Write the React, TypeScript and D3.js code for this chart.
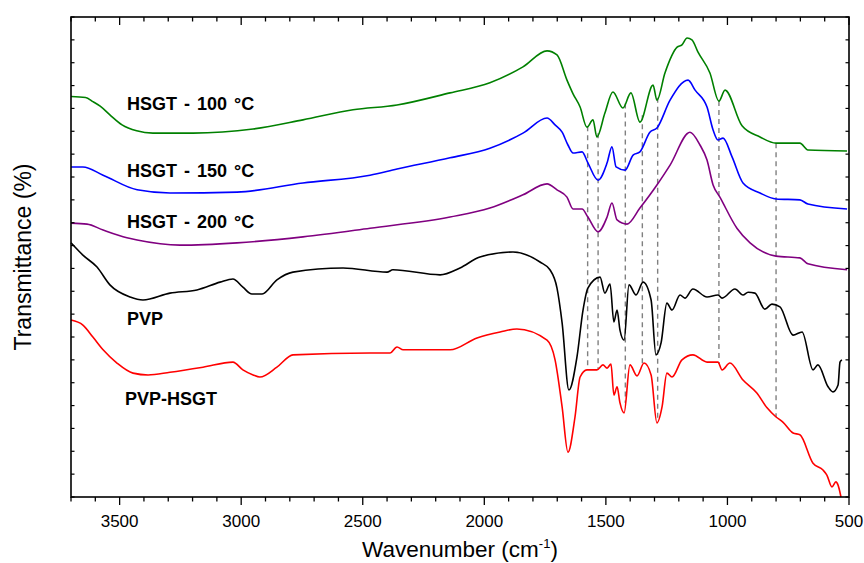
import { useEffect } from "react";
import * as d3 from "d3";

type Pt = [number, number];

// [wavenumber, transmittance] (arbitrary offset units)
const hsgt100: Pt[] = [
  [3700, 87.6], [3640, 87.4], [3610, 86.5], [3580, 85.5], [3540, 83.6], [3490, 81.4],
  [3430, 80.1], [3363, 79.6],
  [3198, 79.6], [2951, 80.5], [2746, 82.5], [2540, 84.7], [2359, 85.75], [2141, 88.4],
  [1977, 90.6], [1841, 94.1], [1742, 97.6], [1701, 96.7], [1660, 91.2], [1635, 88.2],
  [1606, 85.3], [1578, 80.9], [1553, 82.5], [1537, 78.75], [1504, 84], [1471, 88.6],
  [1430, 85.1], [1397, 88.4], [1360, 82], [1306, 90.1], [1290, 86.8], [1257, 92.75],
  [1207, 98.4], [1187, 98.9], [1166, 100.4], [1146, 100], [1121, 97.3], [1072, 92.75],
  [1035, 86.6], [1010, 89], [940, 81.2], [866, 78.75], [800, 77.4], [702, 77.4],
  [669, 75.9], [508, 75.7],
];

const hsgt150: Pt[] = [
  [3700, 72.2], [3651, 72.2], [3568, 70.4], [3428, 67.2], [3293, 66.5], [3017, 66.7],
  [2746, 68.7], [2470, 70.4], [2359, 71.75], [2141, 74.2], [1977, 76.3], [1841, 79.6],
  [1742, 82.9], [1709, 81.4], [1680, 79.8], [1656, 77], [1635, 75.25], [1598, 75.5],
  [1574, 73.1], [1532, 69.3], [1495, 73.1], [1475, 76.6], [1458, 72.2], [1421, 71.5],
  [1388, 74.8], [1360, 75.5], [1319, 79.8], [1290, 80.7], [1236, 86.8], [1162, 91.2],
  [1133, 89], [1084, 85.3], [1059, 80.3], [1039, 78.1], [1018, 78.5], [981, 74.4],
  [936, 68.7], [866, 66.5], [800, 65.2], [702, 65], [669, 64.1], [508, 63],
];

const hsgt200: Pt[] = [
  [3700, 59.9], [3634, 59.7], [3568, 58.4], [3470, 56.7], [3428, 56.2], [3252, 55.1],
  [3017, 55.6], [2746, 56.9], [2470, 58.8], [2141, 61.25], [1977, 63.2], [1841, 66.1],
  [1742, 68.5], [1701, 67.2], [1660, 65.6], [1635, 63], [1598, 63], [1574, 61.25],
  [1532, 58], [1495, 61.25], [1475, 64.3], [1454, 60.6], [1413, 59.7], [1360, 63.2],
  [1290, 68.25], [1236, 72.6], [1154, 79.8], [1113, 77], [1084, 73.7], [1059, 68.25],
  [1031, 65.6], [961, 58.8], [907, 55.6], [800, 52.7], [702, 52.3], [669, 51], [508, 49.7],
];

const pvp: Pt[] = [
  [3700, 55.6], [3651, 52.9], [3593, 50.3], [3540, 46.4], [3457, 43.75], [3404, 43.1],
  [3293, 44.6], [3182, 45.3], [3087, 47], [3034, 47.7], [2993, 45.9], [2956, 44.4],
  [2914, 44.4], [2853, 47.5], [2787, 49.2], [2581, 50.1], [2400, 49.2], [2376, 49.7],
  [2182, 48.6], [2100, 50.1], [2018, 52.5], [1882, 53.6], [1771, 51.4], [1730, 49.7],
  [1701, 45.7], [1680, 38.1], [1652, 23.4], [1619, 30.6], [1594, 40.9], [1574, 45.7],
  [1524, 48.1], [1504, 44.6], [1483, 46.6], [1467, 38.3], [1454, 40.9], [1442, 36.5],
  [1425, 34.3], [1405, 46.4], [1376, 44.2], [1347, 47], [1314, 43.1], [1294, 31.1],
  [1273, 33.7], [1249, 42.4], [1228, 40.9], [1195, 44.2], [1175, 43.5], [1142, 45.5],
  [1084, 43.75], [1039, 44.2], [1022, 43.5], [969, 45.5], [936, 44.2], [915, 44.8],
  [887, 44.6], [846, 41.1], [817, 42.2], [784, 41.6], [730, 35.4], [693, 36.1],
  [648, 27.8], [628, 28.9], [586, 24.1], [566, 23], [545, 24.5], [537, 29.5], [529, 30],
];

const pvpHsgt: Pt[] = [
  [3700, 38.7], [3651, 37.6], [3610, 35], [3568, 32.2], [3511, 29.3], [3445, 27.1],
  [3383, 26.7], [3293, 27.3], [3157, 28.4], [3034, 29.5], [2993, 27.8], [2951, 26.7],
  [2923, 26.25], [2853, 28.4], [2787, 31.1], [2470, 31.5], [2388, 31.5], [2359, 32.8],
  [2334, 32.2], [2141, 32.2], [2030, 34.8], [1935, 36.1], [1866, 36.75], [1742, 34.3],
  [1709, 30], [1680, 19.7], [1656, 9.8], [1627, 17.5], [1606, 26.25], [1578, 27.8],
  [1537, 27.8], [1512, 28.9], [1495, 28.2], [1479, 29.1], [1467, 22.3], [1454, 24.1],
  [1442, 20.6], [1425, 18.4], [1401, 28.9], [1372, 26.5], [1343, 29.3], [1314, 26.7],
  [1290, 16.2], [1269, 19.7], [1249, 27.1], [1228, 26.25], [1187, 30], [1142, 31.1],
  [1084, 29.5], [1039, 29.5], [1022, 27.8], [990, 29.3], [936, 25.6], [879, 22.75],
  [837, 19.5], [800, 17.5], [772, 16.4], [730, 14], [702, 13.6], [648, 7.4],
  [607, 5.9], [591, 4.8], [570, 2.2], [554, 3.3], [545, 2.6], [533, 0],
];

const seriesNames = ["HSGT - 100 °C", "HSGT - 150 °C", "HSGT - 200 °C", "PVP", "PVP-HSGT"];
const seriesData = [hsgt100, hsgt150, hsgt200, pvp, pvpHsgt];
const seriesColors = ["#008000", "#0000ff", "#800080", "#000000", "#ff0000"];
// label anchors in data units (wavenumber, baseline value)
const labelWn = [3470, 3470, 3470, 3470, 3478];
const labelVal = [84.7, 70.0, 58.8, 37.6, 20.1];

// band positions marked with grey dashed lines
const bandLines = [1575, 1532, 1420, 1350, 1287, 1035, 800];

const xMajorTicks = [3500, 3000, 2500, 2000, 1500, 1000, 500];
const xMinorTicks = d3.range(3700, 499, -100);
const yTicks = d3.range(0, 105.01, 5);

const W = 864;
const H = 563;
const FONT = "'Liberation Sans', Arial, Helvetica, sans-serif";

function valueAt(data: Pt[], wn: number) {
  for (let i = 0; i < data.length - 1; i++) {
    const [x0, y0] = data[i];
    const [x1, y1] = data[i + 1];
    if (wn <= x0 && wn >= x1) {
      const t = (x0 - wn) / (x0 - x1);
      return y0 + t * (y1 - y0);
    }
  }
  return data[data.length - 1][1];
}

export default function App() {
  useEffect(() => {
    document.body.style.margin = "0";
  }, []);

  const left = 71;
  const right = 849;
  const top = 17;
  const bottom = 497;

  const x = d3.scaleLinear().domain([3700, 500]).range([left, right]);
  const y = d3.scaleLinear().domain([0, 105]).range([bottom, top]);

  const line = d3
    .line<Pt>()
    .x((d) => x(d[0]))
    .y((d) => y(d[1]))
    .curve(d3.curveMonotoneX);

  return (
    <svg width={W} height={H} style={{ display: "block", background: "#fff" }}>
      {bandLines.map((wn) => (
        <line
          key={`band-${wn}`}
          x1={x(wn)}
          x2={x(wn)}
          y1={y(valueAt(hsgt100, wn))}
          y2={y(valueAt(pvpHsgt, wn))}
          stroke="#808080"
          strokeWidth={1.4}
          strokeDasharray="5,4"
        />
      ))}

      {seriesData.map((d, i) => (
        <path
          key={seriesNames[i]}
          d={line(d) ?? ""}
          fill="none"
          stroke={seriesColors[i]}
          strokeWidth={1.6}
          strokeLinejoin="round"
        />
      ))}

      {seriesNames.map((name, i) => (
        <text
          key={`lab-${name}`}
          x={x(labelWn[i])}
          y={y(labelVal[i])}
          fontFamily={FONT}
          fontWeight="bold"
          fontSize={18}
          wordSpacing={2}
          fill="#000"
        >
          {name}
        </text>
      ))}

      {/* frame */}
      <rect
        x={left}
        y={top}
        width={right - left}
        height={bottom - top}
        fill="none"
        stroke="#000"
        strokeWidth={1.6}
      />

      {/* x ticks: bottom outward, top inward */}
      {xMinorTicks.map((t) => {
        const major = xMajorTicks.includes(t);
        const len = major ? 8 : 4.5;
        return (
          <g key={`xt-${t}`} stroke="#000" strokeWidth={1.3}>
            <line x1={x(t)} x2={x(t)} y1={bottom} y2={bottom + len} />
            <line x1={x(t)} x2={x(t)} y1={top} y2={top + len} />
          </g>
        );
      })}

      {yTicks.map((t) => (
        <g key={`yt-${t}`} stroke="#000" strokeWidth={1.2}>
          <line x1={left} x2={left + 3.5} y1={y(t)} y2={y(t)} />
          <line x1={right} x2={right - 3.5} y1={y(t)} y2={y(t)} />
        </g>
      ))}

      {xMajorTicks.map((t) => (
        <text
          key={`xl-${t}`}
          x={x(t)}
          y={527}
          textAnchor="middle"
          fontFamily={FONT}
          fontSize={17}
          fill="#000"
        >
          {t}
        </text>
      ))}

      <text
        x={(left + right) / 2}
        y={557}
        textAnchor="middle"
        fontFamily={FONT}
        fontSize={22.5}
        fill="#000"
      >
        Wavenumber (cm
        <tspan fontSize={13} dy={-9}>
          -1
        </tspan>
        <tspan dy={9}>)</tspan>
      </text>

      <text
        transform={`translate(31, ${(top + bottom) / 2}) rotate(-90)`}
        textAnchor="middle"
        fontFamily={FONT}
        fontSize={23}
        fill="#000"
      >
        Transmittance (%)
      </text>
    </svg>
  );
}
